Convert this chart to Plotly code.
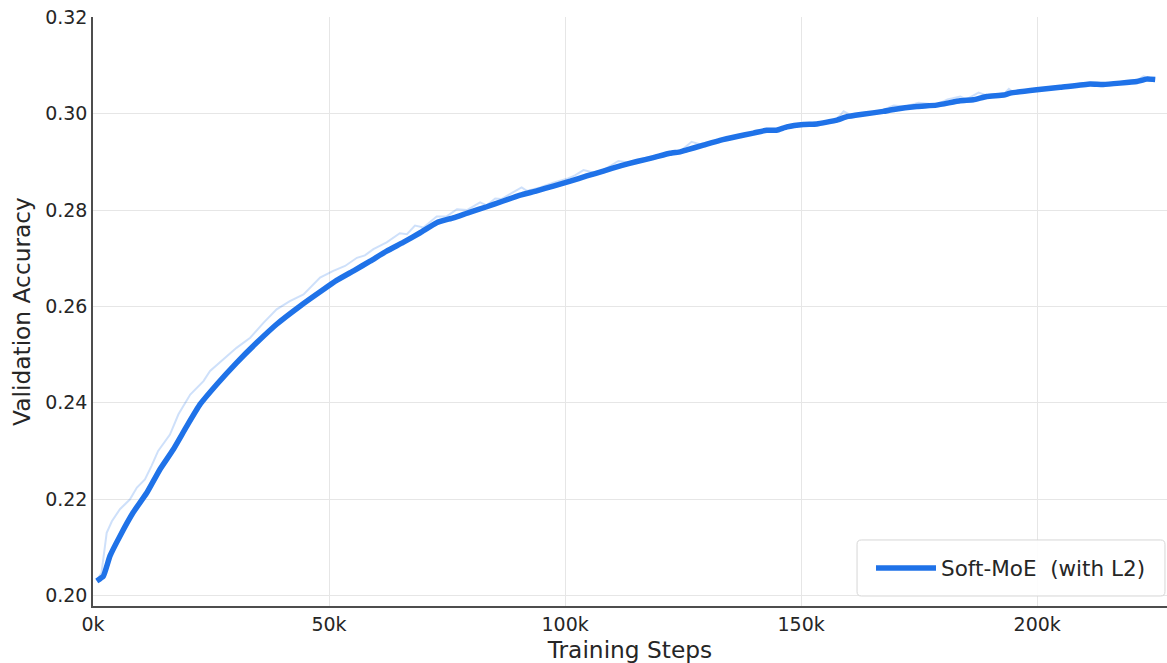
import plotly.graph_objects as go

# Smoothed curve (training steps in thousands, validation accuracy)
smooth_steps_k = [0.8, 2.2, 3.6, 5.7, 8.5, 11.4, 14.2, 17.0, 19.9, 22.7, 26.2, 30.4, 34.7, 38.9,
                  43.9, 48.5, 51.6, 55.2, 58.7, 62.2, 65.7, 69.3, 72.8, 76.3, 79.9, 83.4, 86.9,
                  90.5, 94.0, 97.5, 101.1, 104.6, 108.1, 111.7, 115.2, 118.7, 122.2, 124.4, 125.8,
                  129.3, 132.8, 136.4, 139.9, 142.7, 144.8, 147.0, 150.5, 153.3, 157.6, 159.7,
                  163.0, 167.4, 169.6, 174.5, 178.7, 183.7, 186.5, 189.3, 192.9, 194.3, 199.9,
                  204.9, 211.2, 214.0, 221.1, 223.2, 225.0]
smooth_acc = [0.2030, 0.2040, 0.2082, 0.2123, 0.2172, 0.2213, 0.2262, 0.2303, 0.2352, 0.2397,
              0.2438, 0.2483, 0.2525, 0.2563, 0.2601, 0.2633, 0.2654, 0.2674, 0.2694, 0.2715,
              0.2733, 0.2753, 0.2774, 0.2784, 0.2796, 0.2807, 0.2819, 0.2831, 0.2840, 0.2850,
              0.2860, 0.2871, 0.2881, 0.2892, 0.2901, 0.2909, 0.2918, 0.2921, 0.2925, 0.2935,
              0.2945, 0.2953, 0.2960, 0.2966, 0.2966, 0.2973, 0.2978, 0.2979, 0.2987, 0.2994,
              0.2999, 0.3005, 0.3009, 0.3015, 0.3018, 0.3027, 0.3029, 0.3036, 0.3039, 0.3043,
              0.3050, 0.3055, 0.3062, 0.3061, 0.3067, 0.3072, 0.3071]

# Raw (unsmoothed) curve
raw_steps_k = [0.8, 1.8, 2.9, 4.0, 5.7, 7.8, 9.3, 11.0, 12.4, 13.8, 16.3, 18.1, 20.6, 23.4, 24.8,
               27.6, 30.4, 33.3, 36.1, 38.9, 41.7, 44.6, 48.1, 50.9, 53.4, 55.9, 57.6, 59.4,
               62.2, 65.0, 66.5, 68.2, 70.0, 72.8, 74.9, 77.1, 79.2, 82.0, 83.4, 85.2, 86.5,
               88.3, 90.8, 91.9, 94.7, 97.5, 100.4, 102.1, 103.9, 106.0, 108.1, 111.3, 113.5,
               115.2, 118.7, 122.2, 124.4, 126.8, 128.5, 132.8, 136.4, 139.9, 142.7, 144.8,
               147.0, 150.5, 153.3, 157.6, 159.0, 160.5, 163.2, 167.4, 169.6, 172.0, 174.9,
               178.7, 181.0, 183.7, 185.0, 187.6, 189.3, 192.9, 194.0, 195.0, 199.9, 204.9,
               211.2, 214.0, 221.1, 222.5, 225.0]
raw_acc = [0.2031, 0.2047, 0.2130, 0.2154, 0.2179, 0.2199, 0.2224, 0.2241, 0.2269, 0.2300,
           0.2334, 0.2376, 0.2417, 0.2445, 0.2466, 0.2490, 0.2514, 0.2535, 0.2566, 0.2594,
           0.2611, 0.2625, 0.2660, 0.2674, 0.2684, 0.2701, 0.2706, 0.2719, 0.2733, 0.2752,
           0.2750, 0.2768, 0.2764, 0.2787, 0.2787, 0.2802, 0.2800, 0.2816, 0.2810, 0.2824,
           0.2823, 0.2833, 0.2847, 0.2840, 0.2847, 0.2857, 0.2865, 0.2872, 0.2883, 0.2878,
           0.2883, 0.2902, 0.2899, 0.2904, 0.2912, 0.2920, 0.2922, 0.2942, 0.2937, 0.2947,
           0.2955, 0.2962, 0.2968, 0.2968, 0.2976, 0.2980, 0.2980, 0.2989, 0.3005, 0.2997,
           0.3000, 0.3008, 0.3017, 0.3015, 0.3023, 0.3019, 0.3030, 0.3036, 0.3030, 0.3044,
           0.3038, 0.3040, 0.3052, 0.3044, 0.3051, 0.3056, 0.3063, 0.3062, 0.3069, 0.3078,
           0.3072]

x_tick_vals = [0, 50, 100, 150, 200]
x_tick_text = ["0k", "50k", "100k", "150k", "200k"]
y_tick_vals = [0.20, 0.22, 0.24, 0.26, 0.28, 0.30, 0.32]

series_name = "Soft-MoE\u00a0\u00a0(with L2)"
BLUE = "#1f72e8"
TEXT = "#262626"

fig = go.Figure()
fig.add_trace(go.Scatter(
    x=raw_steps_k, y=raw_acc, mode="lines",
    line=dict(color="rgba(31,114,232,0.22)", width=2),
    showlegend=False, hoverinfo="skip"))
fig.add_trace(go.Scatter(
    x=smooth_steps_k, y=smooth_acc, mode="lines",
    line=dict(color=BLUE, width=5.5, shape="spline", smoothing=0.4),
    name=series_name))

# rounded legend frame (paper coordinates)
bx0, bx1, by0, by1 = 0.7114, 0.9981, 0.0170, 0.1121
rx, ry = 0.0040, 0.0073
frame = (f"M{bx0+rx},{by0} L{bx1-rx},{by0} Q{bx1},{by0} {bx1},{by0+ry} "
         f"L{bx1},{by1-ry} Q{bx1},{by1} {bx1-rx},{by1} L{bx0+rx},{by1} "
         f"Q{bx0},{by1} {bx0},{by1-ry} L{bx0},{by0+ry} Q{bx0},{by0} {bx0+rx},{by0} Z")

fig.update_layout(
    width=1167, height=663,
    margin=dict(l=93, r=0, t=17, b=57),
    paper_bgcolor="white", plot_bgcolor="white",
    font=dict(family="DejaVu Sans", color=TEXT, size=19),
    showlegend=True,
    shapes=[dict(type="path", path=frame, xref="paper", yref="paper",
                 fillcolor="rgba(255,255,255,0.9)", line=dict(color="#d6d6d6", width=1),
                 layer="above")],
    legend=dict(
        x=0.9851, y=0.0645, xanchor="right", yanchor="middle",
        bgcolor="rgba(0,0,0,0)", borderwidth=0,
        font=dict(size=21.5, color=TEXT), itemwidth=60,
    ),
    xaxis=dict(
        range=[0, 227.5], tickvals=x_tick_vals, ticktext=x_tick_text,
        showgrid=True, gridcolor="#e6e6e6", gridwidth=1, zeroline=False,
        showline=True, linecolor="#4d4d4d", linewidth=1.5, ticks="",
        tickfont=dict(size=19, color=TEXT),
        title=dict(text="Training Steps", font=dict(size=23.3, color=TEXT), standoff=9),
    ),
    yaxis=dict(
        range=[0.1978, 0.3201], tickvals=y_tick_vals, tickformat=".2f",
        showgrid=True, gridcolor="#e6e6e6", gridwidth=1, zeroline=False,
        showline=True, linecolor="#4d4d4d", linewidth=1.5, ticks="",
        tickfont=dict(size=19, color=TEXT),
        title=dict(text="Validation Accuracy", font=dict(size=23.3, color=TEXT), standoff=8),
    ),
)

fig.write_html("out.html")
